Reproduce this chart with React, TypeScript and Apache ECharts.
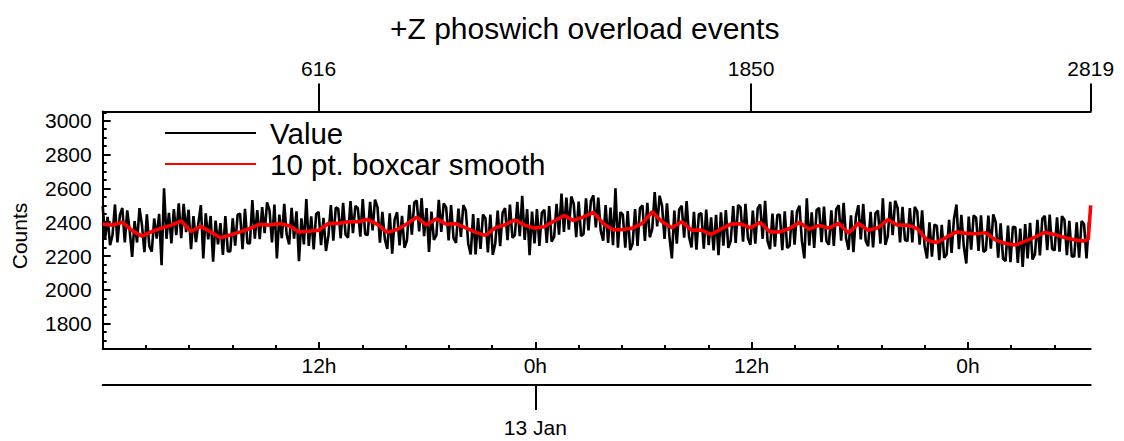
import React, { useEffect, useRef } from 'react';
import * as echarts from 'echarts';

const TITLE = '+Z phoswich overload events';
const Y_NAME = 'Counts';
const LEGEND_LABELS = ['Value', '10 pt. boxcar smooth'];
const Y_TICKS = [1800, 2000, 2200, 2400, 2600, 2800, 3000];
const INDEX_TICKS = [616, 1850, 2819];
const HOUR_TICKS = [12, 24, 36, 48];
const HOUR_LABELS = ['12h', '0h', '12h', '0h'];
const DATE_TICKS = [24];
const DATE_LABELS = ['13 Jan'];
const T_MIN = 0; // hours since 12 Jan 00:00
const T_MAX = 54.81;
const N_MAX = 2819;
const Y_MIN = 1650;
const Y_MAX = 3055;

const VALUE_STEP = 7; // sample index spacing of VALUES
const VALUES = [
  2495, 2306, 2432, 2264, 2323, 2505, 2281, 2442, 2484, 2281, 2470, 2351,
  2195, 2406, 2280, 2483, 2384, 2223, 2447, 2258, 2226, 2422, 2303, 2450,
  2146, 2600, 2302, 2456, 2274, 2477, 2323, 2512, 2306, 2509, 2341, 2474,
  2240, 2436, 2282, 2394, 2501, 2186, 2452, 2298, 2437, 2166, 2409, 2269,
  2395, 2206, 2437, 2227, 2227, 2423, 2262, 2444, 2451, 2241, 2479, 2276,
  2275, 2531, 2303, 2471, 2300, 2489, 2335, 2517, 2470, 2281, 2505, 2186,
  2445, 2305, 2508, 2326, 2268, 2485, 2303, 2464, 2170, 2423, 2269, 2537,
  2260, 2435, 2239, 2449, 2461, 2265, 2426, 2230, 2319, 2501, 2291, 2487,
  2480, 2305, 2515, 2326, 2308, 2525, 2336, 2497, 2483, 2315, 2537, 2329,
  2324, 2520, 2352, 2534, 2489, 2279, 2461, 2300, 2242, 2452, 2214, 2417,
  2459, 2263, 2438, 2249, 2292, 2502, 2327, 2516, 2528, 2346, 2542, 2318,
  2484, 2225, 2463, 2295, 2322, 2532, 2343, 2511, 2488, 2292, 2502, 2306,
  2278, 2481, 2313, 2502, 2469, 2273, 2209, 2448, 2210, 2424, 2242, 2445,
  2424, 2221, 2445, 2207, 2273, 2469, 2259, 2455, 2483, 2294, 2504, 2308,
  2324, 2520, 2317, 2556, 2295, 2477, 2205, 2463, 2274, 2477, 2260, 2456,
  2474, 2278, 2495, 2285, 2313, 2509, 2327, 2570, 2342, 2545, 2356, 2552,
  2508, 2312, 2522, 2319, 2331, 2541, 2352, 2527, 2559, 2370, 2545, 2349,
  2291, 2501, 2277, 2487, 2264, 2600, 2250, 2460, 2445, 2249, 2466, 2235,
  2274, 2477, 2260, 2484, 2500, 2290, 2514, 2311, 2361, 2578, 2375, 2557,
  2497, 2301, 2511, 2315, 2186, 2469, 2273, 2476, 2497, 2308, 2525, 2315,
  2251, 2461, 2237, 2447, 2454, 2244, 2475, 2265, 2429, 2233, 2443, 2205,
  2458, 2262, 2472, 2248, 2292, 2495, 2278, 2502, 2488, 2285, 2509, 2306,
  2266, 2469, 2273, 2483, 2505, 2302, 2526, 2288, 2241, 2451, 2255, 2444,
  2444, 2234, 2465, 2248, 2261, 2471, 2268, 2464, 2498, 2288, 2186, 2541,
  2262, 2458, 2248, 2472, 2485, 2282, 2492, 2289, 2267, 2470, 2260, 2477,
  2501, 2291, 2515, 2305, 2237, 2440, 2223, 2433, 2501, 2298, 2508, 2291,
  2258, 2461, 2251, 2454, 2469, 2273, 2541, 2266, 2317, 2520, 2324, 2527,
  2484, 2281, 2491, 2295, 2288, 2484, 2281, 2491, 2464, 2268, 2471, 2261,
  2186, 2400, 2197, 2386, 2378, 2175, 2385, 2189, 2211, 2414, 2218, 2421,
  2505, 2241, 2444, 2255, 2156, 2433, 2237, 2440, 2427, 2231, 2441, 2224,
  2236, 2439, 2243, 2446, 2400, 2190, 2393, 2183, 2170, 2380, 2163, 2373,
  2370, 2160, 2363, 2136, 2389, 2186, 2396, 2179, 2211, 2414, 2204, 2421,
  2438, 2235, 2445, 2242, 2233, 2429, 2226, 2436, 2415, 2205, 2408, 2198,
  2197, 2400, 2190, 2407, 2389, 2186, 2403,
];

const SMOOTH_STEP = 28; // sample index spacing of SMOOTH
const SMOOTH = [
  2390, 2383, 2400, 2350, 2318, 2345, 2365, 2383, 2408, 2345,
  2375, 2343, 2308, 2324, 2343, 2363, 2388, 2383, 2393, 2379,
  2343, 2347, 2353, 2393, 2393, 2403, 2403, 2416, 2387, 2340,
  2357, 2391, 2430, 2383, 2420, 2389, 2391, 2367, 2340, 2322,
  2367, 2385, 2414, 2383, 2365, 2373, 2407, 2440, 2409, 2432,
  2458, 2393, 2355, 2357, 2365, 2395, 2462, 2403, 2367, 2403,
  2353, 2353, 2328, 2359, 2389, 2391, 2367, 2399, 2343, 2343,
  2363, 2399, 2359, 2381, 2365, 2393, 2336, 2393, 2353, 2367,
  2416, 2383, 2383, 2363, 2294, 2280, 2312, 2343, 2334, 2332,
  2338, 2294, 2274, 2265, 2288, 2312, 2340, 2328, 2310, 2296,
  2288,
];
const SMOOTH_TAIL_INDEX = [2812, 2819];
const SMOOTH_TAIL = [2300, 2500];

const FONT = "'Liberation Sans', Arial, Helvetica, sans-serif";

export default function App() {
  const ref = useRef<HTMLDivElement>(null);

  useEffect(() => {
    if (!ref.current) return;
    const chart = echarts.init(ref.current, null, { renderer: 'svg' });

    const valueData = VALUES.map((v, i) => [i * VALUE_STEP, v]);
    const smoothData = SMOOTH.map((v, j) => [j * SMOOTH_STEP, v]).concat(
      SMOOTH_TAIL.map((v, k) => [SMOOTH_TAIL_INDEX[k], v])
    );

    const axisLine = { show: true, onZero: false, lineStyle: { color: '#000', width: 2 } };
    const labelStyle = { color: '#000', fontSize: 21, fontFamily: FONT };
    const plain = (v: number) => String(v);

    chart.setOption({
      animation: false,
      backgroundColor: '#fff',
      title: {
        text: TITLE,
        left: 385,
        top: 8,
        textStyle: { fontSize: 30, fontWeight: 'normal', color: '#000', fontFamily: FONT },
      },
      grid: {
        left: 102.7,
        right: 33.3,
        top: 111.5,
        bottom: 92,
        containLabel: false,
        outerBoundsMode: 'none',
      },
      xAxis: [
        {
          type: 'value',
          position: 'bottom',
          min: T_MIN,
          max: T_MAX,
          interval: 12,
          axisLine,
          axisTick: {
            show: true,
            inside: true,
            length: 7,
            customValues: HOUR_TICKS,
            lineStyle: { color: '#000', width: 2 },
          },
          minorTick: { show: true, splitNumber: 5, length: 4, lineStyle: { color: '#000', width: 2 } },
          axisLabel: {
            ...labelStyle,
            margin: 6,
            customValues: HOUR_TICKS,
            formatter: (v: number) => HOUR_LABELS[HOUR_TICKS.indexOf(v)] ?? '',
          },
          splitLine: { show: false },
          minorSplitLine: { show: false },
        },
        {
          type: 'value',
          position: 'bottom',
          offset: 36,
          min: T_MIN,
          max: T_MAX,
          axisLine,
          axisTick: {
            show: true,
            inside: false,
            length: 25,
            customValues: DATE_TICKS,
            lineStyle: { color: '#000', width: 2 },
          },
          axisLabel: {
            ...labelStyle,
            margin: 32,
            customValues: DATE_TICKS,
            formatter: (v: number) => DATE_LABELS[DATE_TICKS.indexOf(v)] ?? '',
          },
          splitLine: { show: false },
        },
        {
          type: 'value',
          position: 'top',
          min: 0,
          max: N_MAX,
          axisLine,
          axisTick: {
            show: true,
            inside: false,
            length: 28,
            customValues: INDEX_TICKS,
            lineStyle: { color: '#000', width: 2 },
          },
          axisLabel: {
            ...labelStyle,
            margin: 33,
            customValues: INDEX_TICKS,
            formatter: plain,
          },
          splitLine: { show: false },
        },
      ],
      yAxis: [
        {
          type: 'value',
          position: 'left',
          min: Y_MIN,
          max: Y_MAX,
          axisLine,
          axisTick: {
            show: true,
            inside: true,
            length: 8,
            customValues: Y_TICKS,
            lineStyle: { color: '#000', width: 2 },
          },
          axisLabel: { ...labelStyle, margin: 11, customValues: Y_TICKS, formatter: plain },
          splitLine: { show: false },
        },
        {
          type: 'value',
          position: 'left',
          min: Y_MIN,
          max: Y_MAX,
          interval: 50,
          axisLine: { show: false },
          axisTick: { show: true, inside: true, length: 4, lineStyle: { color: '#000', width: 2 } },
          axisLabel: { show: false },
          splitLine: { show: false },
        },
      ],
      graphic: [
        {
          type: 'text',
          x: 19,
          y: 236,
          rotation: Math.PI / 2,
          style: {
            text: Y_NAME,
            fontSize: 21,
            fontFamily: FONT,
            fill: '#000',
            align: 'center',
            verticalAlign: 'middle',
          },
        },
        { type: 'line', shape: { x1: 165, y1: 133, x2: 256, y2: 133 }, style: { stroke: '#000', lineWidth: 2 } },
        { type: 'line', shape: { x1: 165, y1: 164, x2: 256, y2: 164 }, style: { stroke: '#ff0000', lineWidth: 2 } },
        {
          type: 'text',
          x: 270,
          y: 133,
          style: { text: LEGEND_LABELS[0], fontSize: 29.5, fontFamily: FONT, fill: '#000', verticalAlign: 'middle' },
        },
        {
          type: 'text',
          x: 270,
          y: 164,
          style: { text: LEGEND_LABELS[1], fontSize: 29.5, fontFamily: FONT, fill: '#000', verticalAlign: 'middle' },
        },
      ],
      series: [
        {
          name: LEGEND_LABELS[0],
          type: 'line',
          xAxisIndex: 2,
          yAxisIndex: 0,
          data: valueData,
          showSymbol: false,
          symbol: 'none',
          lineStyle: { color: '#000', width: 2.6 },
          z: 2,
        },
        {
          name: LEGEND_LABELS[1],
          type: 'line',
          xAxisIndex: 2,
          yAxisIndex: 0,
          data: smoothData,
          showSymbol: false,
          symbol: 'none',
          lineStyle: { color: '#ff0000', width: 3.6 },
          z: 3,
        },
      ],
    });

    return () => chart.dispose();
  }, []);

  return (
    <div
      ref={ref}
      style={{ position: 'fixed', left: 0, top: 0, width: 1124, height: 441, background: '#fff' }}
    />
  );
}
